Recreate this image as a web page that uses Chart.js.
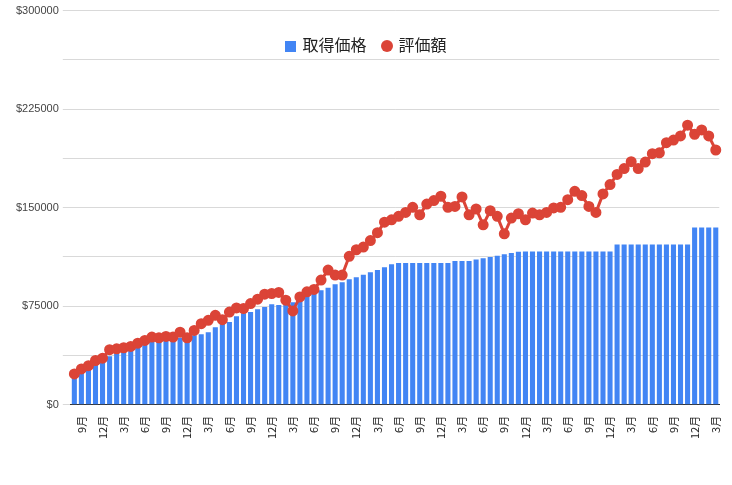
<!DOCTYPE html>
<html><head><meta charset="utf-8">
<script src="https://cdn.jsdelivr.net/npm/chart.js@4"></script>
<style>
body{margin:0;background:#fff;font-family:Roboto,Arial,sans-serif}
#wrap{position:relative;width:732px;height:485px}
#legend{position:absolute;top:32px;left:0;width:100%;text-align:center;font-size:16px;color:#222;font-family:"Noto Sans CJK JP",sans-serif}
.sq{display:inline-block;width:11px;height:11px;background:#4285F4;margin-right:6px;vertical-align:-1px}
.ci{display:inline-block;width:12px;height:12px;border-radius:50%;background:#DB4437;margin:0 6px 0 14px;vertical-align:-1px}
</style></head><body>
<div id="wrap"><canvas id="c" width="732" height="485"></canvas>
<div id="legend"><span class="sq"></span>取得価格<span class="ci"></span>評価額</div></div>
<script>
const startMonth = 8;
const months = Array.from({length:92},(_,i)=>((startMonth-1+i)%12)+1);
const labels = months.map(m=>m+'月');
const cost = [22,24.7,27.5,30.6,32.4,37,39,41,42.8,44.4,46.7,49,49.7,50,50,51,52,53,53.6,55.3,59,62,63,67.3,69.6,70.6,72.7,74.5,76.5,76,77.5,78,81.9,83.4,84.9,87.2,89,91.8,93.3,95.6,97,99,100.8,102.5,104.6,107,
108,108,108,108,108,108,108,108,109.5,109.5,109.5,110.5,111.5,112.5,113.5,114.5,115.5,116.5,
116.7,116.7,116.7,116.7,116.7,116.7,116.7,116.7,116.7,116.7,116.7,116.7,116.7,
122,122,122,122,122,122,122,122,122,122,122,135,135,135,135].map(v=>v*1000);
const value = [23.5,27.3,29.8,33.7,35.5,41.9,42.6,43.4,44.4,46.9,49,51.5,51,52,51.5,55.3,51,56.6,61.7,64.3,68.1,64.8,70.6,73.7,73.2,77,80.4,84.2,84.7,85.5,79.6,71.4,82.1,86,87.8,94.9,102.5,98.7,98.7,
113,118,120,125,131,139,
140.8,143.4,146.4,150.3,144.6,152.8,155.4,158.7,150.3,151,158.2,144.6,149,137,147.7,143.4,130.1,142.1,145.4,140.8,145.9,144.6,146.4,149.8,150.3,156.1,162.5,159.2,151,146.4,160.5,167.6,175.3,179.8,185,179.8,184.7,191.1,191.8,199.5,201.5,204.6,212.8,205.9,209.2,204.6,193.9].map(v=>v*1000);
const yTicks = [0,75000,150000,225000,300000];
new Chart(document.getElementById('c'),{
  data:{labels,datasets:[
    {type:'line',label:'評価額',data:value,borderColor:'#DB4437',backgroundColor:'#DB4437',borderWidth:3,pointRadius:4,pointHoverRadius:4,order:0},
    {type:'bar',label:'取得価格',data:cost,backgroundColor:'#4285F4',barPercentage:0.72,categoryPercentage:1,order:1}
  ]},
  options:{responsive:false,animation:false,
    layout:{padding:{left:12,right:2,top:6,bottom:43}},
    plugins:{legend:{display:false},tooltip:{enabled:false}},
    scales:{
      x:{grid:{display:false},border:{color:'#333'},
        ticks:{autoSkip:false,maxRotation:90,minRotation:90,color:'#222',font:{size:11,family:'"Noto Sans CJK JP",sans-serif'},
          callback:(v,i)=>months[i]%3===0?labels[i]:''}},
      y:{min:0,max:300000,afterBuildTicks:ax=>{ax.ticks=[];for(let v=0;v<=300000;v+=37500)ax.ticks.push({value:v});},
        grid:{color:'#d9d9d9'},border:{display:false},
        ticks:{color:'#444',font:{size:11},padding:4,callback:v=>yTicks.includes(v)?'$'+v:''}}
    }}
});
</script></body></html>
